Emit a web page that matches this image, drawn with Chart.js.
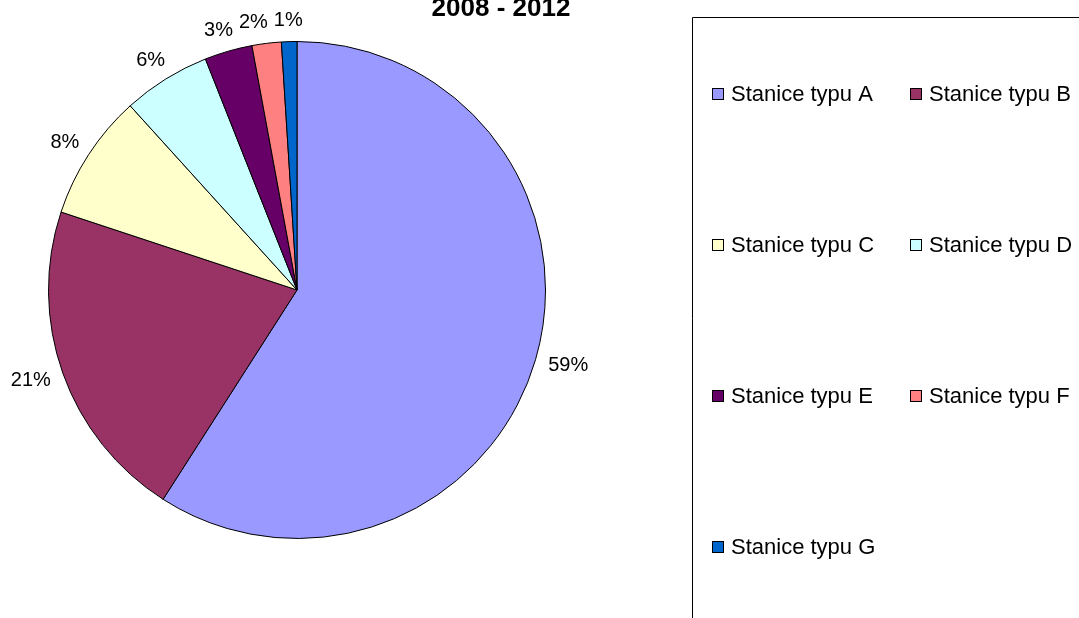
<!DOCTYPE html>
<html lang="cs">
<head>
    <meta charset="UTF-8">
    <title>Stanice 2008 - 2012</title>
    <script src="https://cdn.jsdelivr.net/npm/chart.js"></script>
    <style>
        body { margin: 0; background: #fff; }
        #wrap { width: 1079px; height: 618px; position: relative; }
    </style>
</head>
<body>
    <div id="wrap">
        <canvas id="myChart"></canvas>
    </div>

    <script>
        // Data
        const categories = ['Stanice typu A', 'Stanice typu B', 'Stanice typu C', 'Stanice typu D',
                            'Stanice typu E', 'Stanice typu F', 'Stanice typu G'];
        const shares = [59, 21, 8.2, 5.7, 3.1, 1.9, 1.0];
        const sliceColors = ['#9999FF', '#993366', '#FFFFCC', '#CCFFFF', '#660066', '#FF8080', '#0066CC'];
        const titleText = '2008 - 2012';

        const FONT = '"Liberation Sans", Arial, sans-serif';

        // percent labels outside each slice (box edge sits a few px off the rim)
        const outsideLabels = {
            id: 'outsideLabels',
            afterDatasetsDraw(chart) {
                const ctx = chart.ctx;
                const meta = chart.getDatasetMeta(0);
                const data = chart.data.datasets[0].data;
                const total = data.reduce((a, b) => a + b, 0);
                ctx.save();
                ctx.font = '20px ' + FONT;
                ctx.fillStyle = '#000';
                ctx.textAlign = 'center';
                ctx.textBaseline = 'middle';
                const h = 15;
                const boxes = meta.data.map((arc, i) => {
                    const txt = Math.round(data[i] / total * 100) + '%';
                    const w = ctx.measureText(txt).width;
                    const mid = (arc.startAngle + arc.endAngle) / 2;
                    const d = arc.outerRadius + 14;
                    const x = arc.x + Math.cos(mid) * d + Math.cos(mid) * w / 2;
                    const y = arc.y + Math.sin(mid) * d + Math.sin(mid) * h / 2;
                    return { txt, w, x, y };
                });
                // small slices near the top: push overlapping labels to the left
                for (let i = boxes.length - 2; i >= 0; i--) {
                    const b = boxes[i], n = boxes[i + 1];
                    if (Math.abs(b.y - n.y) < h && b.x + b.w / 2 > n.x - n.w / 2 - 6 && b.x < n.x) {
                        b.x = n.x - n.w / 2 - 6 - b.w / 2;
                    }
                }
                boxes.forEach(b => ctx.fillText(b.txt, b.x, b.y));
                ctx.restore();
            }
        };

        // title + boxed legend in two columns, like the original
        const sideLegend = {
            id: 'sideLegend',
            afterDraw(chart) {
                const ctx = chart.ctx;
                ctx.save();

                ctx.font = 'bold 26px ' + FONT;
                ctx.fillStyle = '#000';
                ctx.textAlign = 'center';
                ctx.textBaseline = 'alphabetic';
                ctx.fillText(titleText, 501, 16);

                // legend frame
                ctx.strokeStyle = '#000';
                ctx.lineWidth = 1;
                ctx.beginPath();
                ctx.moveTo(692.5, 700);
                ctx.lineTo(692.5, 17.5);
                ctx.lineTo(1090, 17.5);
                ctx.stroke();

                ctx.font = '22px ' + FONT;
                ctx.textAlign = 'left';
                ctx.textBaseline = 'middle';
                const colX = [712, 910];
                chart.data.labels.forEach((lab, i) => {
                    const x = colX[i % 2];
                    const y = 94 + Math.floor(i / 2) * 151;
                    ctx.fillStyle = chart.data.datasets[0].backgroundColor[i];
                    ctx.fillRect(x, y - 6, 12, 12);
                    ctx.strokeRect(x + 0.5, y - 5.5, 11, 11);
                    ctx.fillStyle = '#000';
                    ctx.fillText(lab, x + 19, y + 1);
                });
                ctx.restore();
            }
        };

        const config = {
            type: 'pie',
            data: {
                labels: categories,
                datasets: [{
                    data: shares,
                    backgroundColor: sliceColors,
                    borderColor: '#000',
                    borderWidth: 1
                }]
            },
            options: {
                responsive: true,
                maintainAspectRatio: false,
                animation: false,
                layout: {
                    padding: { left: 48, top: 41, right: 533, bottom: 79 }
                },
                plugins: {
                    legend: { display: false },
                    tooltip: { enabled: false }
                }
            },
            plugins: [outsideLabels, sideLegend]
        };

        var myChart = new Chart(document.getElementById('myChart'), config);
    </script>
</body>
</html>
